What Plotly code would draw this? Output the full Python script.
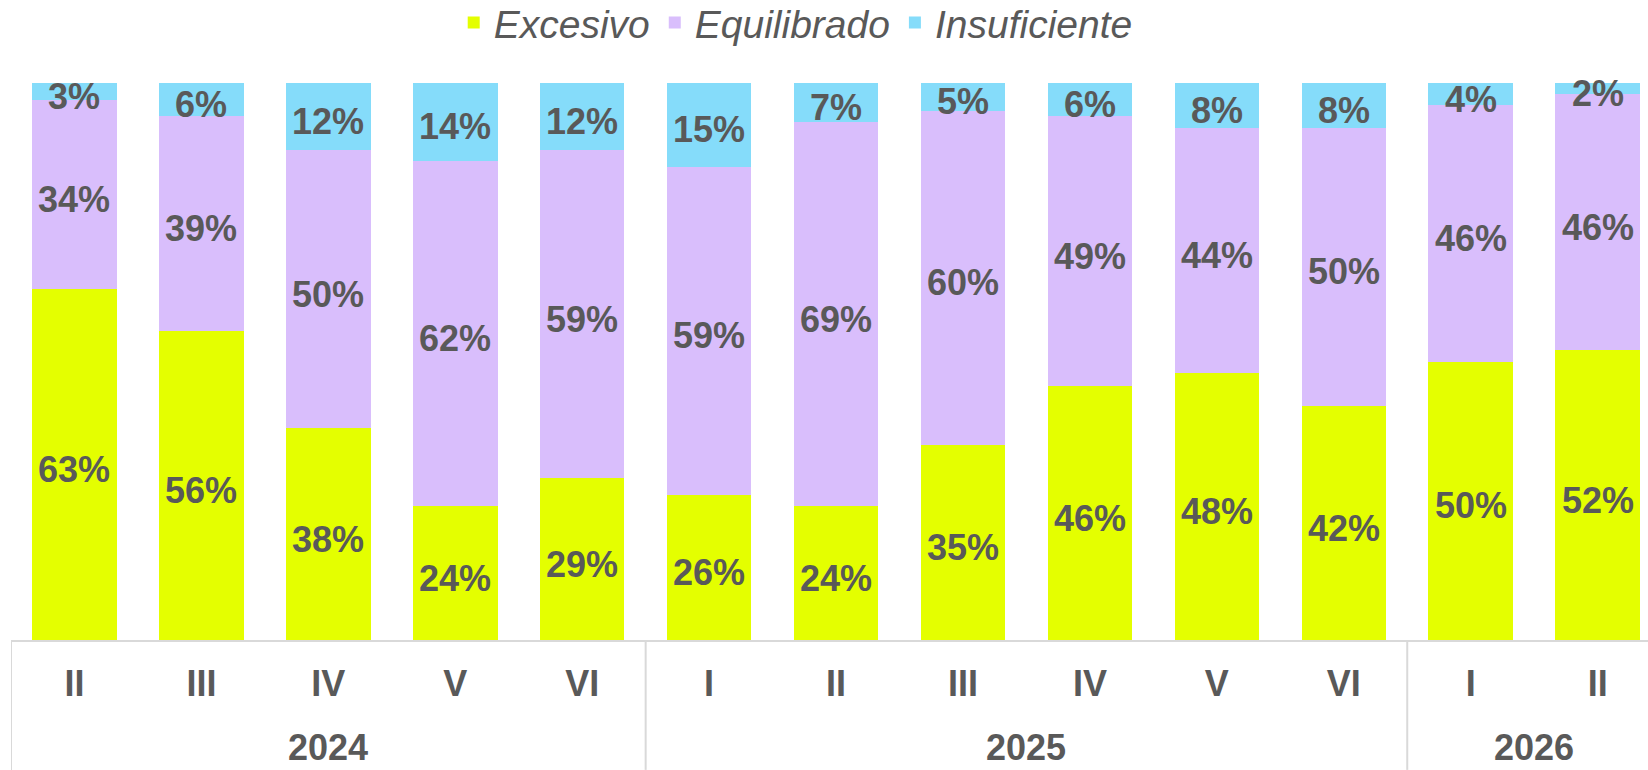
import plotly.graph_objects as go

years = ["2024"] * 5 + ["2025"] * 6 + ["2026"] * 2
periods = ["II", "III", "IV", "V", "VI", "I", "II", "III", "IV", "V", "VI", "I", "II"]
excesivo = [63, 56, 38, 24, 29, 26, 24, 35, 46, 48, 42, 50, 52]
equilibrado = [34, 39, 50, 62, 59, 59, 69, 60, 49, 44, 50, 46, 46]
insuficiente = [3, 6, 12, 14, 12, 15, 7, 5, 6, 8, 8, 4, 2]

series_names = ["Excesivo", "Equilibrado", "Insuficiente"]
series_values = [excesivo, equilibrado, insuficiente]
colors = ["#E4FF00", "#D9BEFC", "#85DCFA"]

TEXT_COLOR = "#595959"
GRID_COLOR = "#D9D9D9"
FONT = "Arial, Liberation Sans, sans-serif"

idx = list(range(len(periods)))
fig = go.Figure()

for name, vals, col in zip(series_names, series_values, colors):
    fig.add_trace(go.Bar(
        x=idx, y=vals, name=name, marker=dict(color=col, line=dict(width=0)),
        hoverinfo="skip",
    ))

annotations = []
# data labels at segment midpoints (normalised to 100 %)
totals = [sum(v) for v in zip(*series_values)]
base = [0.0] * len(periods)
for name, vals in zip(series_names, series_values):
    for i, v in enumerate(vals):
        h = v / totals[i] * 100
        annotations.append(dict(
            text=f"{v}%", xref="x", yref="y", x=i, y=base[i] + h / 2,
            xanchor="center", yanchor="middle", yshift=-5, showarrow=False,
            font=dict(family=FONT, size=36, color=TEXT_COLOR, weight="bold"),
        ))
        base[i] += h

W, H = 1648, 770
L, R, T, B = 11.4, 0, 82.5, 130
plot_h = H - T - B
cat_w = 126.9
span = (W - L - R) / cat_w

# year groups: labels and divider positions
groups = []
for i, y in enumerate(years):
    if not groups or groups[-1][0] != y:
        groups.append([y, i, i])
    else:
        groups[-1][2] = i

shapes = []
for g, i0, i1 in groups:
    shapes.append(dict(type="line", xref="x", yref="paper", x0=i0 - 0.5, x1=i0 - 0.5,
                       y0=0, y1=-B / plot_h, line=dict(color=GRID_COLOR, width=2)))
    annotations.append(dict(text=g, xref="x", yref="paper", x=(i0 + i1) / 2, y=0,
                            yanchor="middle", yshift=-107, showarrow=False,
                            font=dict(family=FONT, size=36, color=TEXT_COLOR, weight="bold")))
shapes.append(dict(type="line", xref="x", yref="paper", x0=groups[-1][2] + 0.5,
                   x1=groups[-1][2] + 0.5, y0=0, y1=-B / plot_h,
                   line=dict(color=GRID_COLOR, width=2)))

fig.update_layout(
    width=W, height=H,
    template="none",
    barmode="stack", barnorm="percent", bargap=0.334,
    paper_bgcolor="white", plot_bgcolor="white",
    margin=dict(l=L, r=R, t=T, b=B, autoexpand=False),
    font=dict(family=FONT, color=TEXT_COLOR),
    showlegend=True,
    legend=dict(
        orientation="h", x=(454 - L) / (W - L - R), xanchor="left",
        y=1 + (T - 22) / plot_h, yanchor="middle",
        font=dict(family=FONT, size=39, color=TEXT_COLOR, style="italic"),
        traceorder="normal", bgcolor="rgba(0,0,0,0)",
    ),
    xaxis=dict(
        range=[-0.5, -0.5 + span], tickmode="array", tickvals=idx, ticktext=periods,
        showline=True, linecolor=GRID_COLOR, linewidth=2, zeroline=False,
        ticks="", showgrid=False, automargin=False, ticklabelstandoff=11,
        tickfont=dict(family=FONT, size=36, color=TEXT_COLOR, weight="bold"),
    ),
    yaxis=dict(range=[0, 100], visible=False, showgrid=False, automargin=False),
    shapes=shapes,
    annotations=annotations,
)

fig.write_html("out.html", config={"displayModeBar": False},
               post_script="document.body.style.margin='0';")
